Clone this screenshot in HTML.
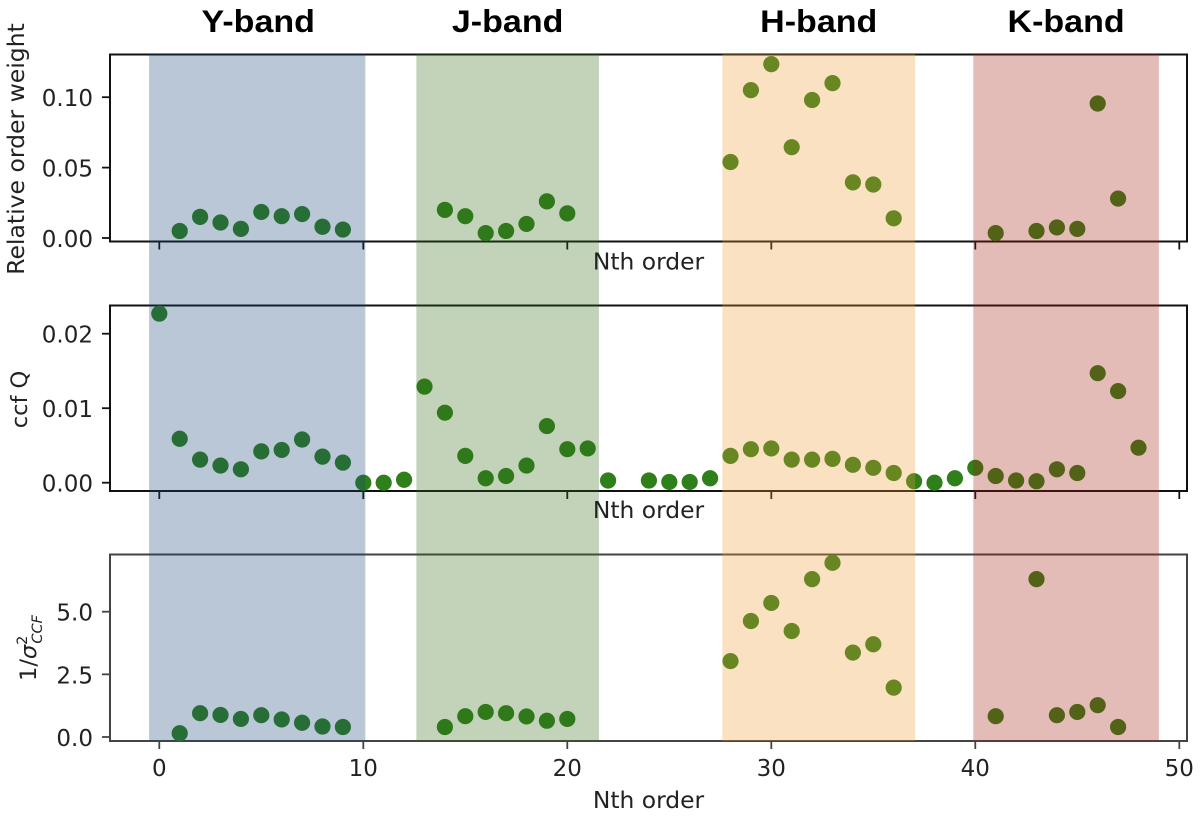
<!DOCTYPE html>
<html>
<head>
<meta charset="utf-8">
<style>
html,body{margin:0;padding:0;background:#fff;width:1200px;height:816px;overflow:hidden}
svg{display:block;font-family:"DejaVu Sans","Liberation Sans",sans-serif}
</style>
</head>
<body>
<svg id="chart" xmlns="http://www.w3.org/2000/svg" width="1200" height="816" viewBox="0 0 1200 816"></svg>
<script>
const xTicks = [0, 10, 20, 30, 40, 50];
const bandLabels = ["Y-band", "J-band", "H-band", "K-band"];
const bandStarts = [-0.5, 12.6, 27.6, 39.9];
const bandEnds = [10.1, 21.55, 37.05, 49.0];
const bandColors = ["#164476", "#346c1c", "#f09a34", "#a5200f"];

const weightOrders = [1,2,3,4,5,6,7,8,9,14,15,16,17,18,19,20,28,29,30,31,32,33,34,35,36,41,43,44,45,46,47];
const weightValues = [.005,.015,.011,.0065,.0185,.0155,.017,.008,.006,.02,.0155,.0035,.005,.01,.026,.0175,.054,.105,.1235,.0645,.098,.11,.0395,.038,.014,.0035,.005,.0075,.0065,.0955,.028];
const weightTicks = [0, 0.05, 0.10];
const weightTickLabels = ["0.00", "0.05", "0.10"];

const ccfOrders = [0,1,2,3,4,5,6,7,8,9,10,11,12,13,14,15,16,17,18,19,20,21,22,24,25,26,27,28,29,30,31,32,33,34,35,36,37,38,39,40,41,42,43,44,45,46,47,48];
const ccfValues = [.0227,.0059,.0031,.0023,.0018,.0042,.0044,.0058,.0035,.0027,0,0,.0004,.0129,.0094,.0036,.0006,.0009,.0023,.0076,.0045,.0046,.0003,.0003,.0001,.0001,.0006,.0036,.0045,.0046,.0031,.0031,.0032,.0024,.002,.0013,.0002,0,.0006,.002,.0009,.0003,.0002,.0018,.0013,.0147,.0123,.0047];
const ccfTicks = [0, 0.01, 0.02];
const ccfTickLabels = ["0.00", "0.01", "0.02"];

const sigmaOrders = [1,2,3,4,5,6,7,8,9,14,15,16,17,18,19,20,28,29,30,31,32,33,34,35,36,41,43,44,45,46,47];
const sigmaValues = [.15,.95,.88,.72,.87,.7,.57,.42,.4,.4,.83,1.0,.95,.82,.65,.72,3.03,4.63,5.35,4.23,6.3,6.95,3.37,3.7,1.97,.83,6.3,.87,1.0,1.27,.4];
const sigmaTicks = [0, 2.5, 5];
const sigmaTickLabels = ["0.0", "2.5", "5.0"];

const NS = "http://www.w3.org/2000/svg";
const svg = document.getElementById("chart");
const MARKER = "#2f7f1a";
const TEXT = "#222";
const LEFT = 110, RIGHT = 1187, BAND_TOP = 54, BAND_BOTTOM = 741;

function xScale(v){ return 159.3 + v * 20.4; }
function makeY(zero, perUnit){ return function(v){ return zero - v * perUnit; }; }

function mk(tag, attrs, parent){
  const el = document.createElementNS(NS, tag);
  for (const k in attrs) el.setAttribute(k, attrs[k]);
  (parent || svg).appendChild(el);
  return el;
}

function drawPanel(name, top, bottom, yFn, orders, values, ticks, tickLabels, spine, showXLabels){
  const g = mk("g", {});
  
  
  const frame = mk("rect", {x:LEFT, y:top, width:RIGHT-LEFT, height:bottom-top, fill:"none", stroke:spine, "stroke-width":2}, g);
  
  
  ticks.forEach(function(t, i){
    const y = yFn(t);
    const tick = mk("line", {x1:LEFT-8, x2:LEFT, y1:y, y2:y, stroke:spine, "stroke-width":1.8}, g);
    
    
    const lab = mk("text", {x:93, y:y+9, "text-anchor":"end", "font-size":23, fill:TEXT}, g);
    
    
    lab.textContent = tickLabels[i];
  });
  xTicks.forEach(function(t){
    const x = xScale(t);
    const tick = mk("line", {x1:x, x2:x, y1:bottom, y2:bottom+8, stroke:spine, "stroke-width":1.8}, g);
    
    
    if (showXLabels){
      const lab = mk("text", {x:x, y:bottom+35, "text-anchor":"middle", "font-size":23, fill:TEXT}, g);
      
      
      lab.textContent = String(t);
    }
  });
  orders.forEach(function(o, i){
    const c = mk("circle", {cx:xScale(o), cy:yFn(values[i]), r:8.1, fill:MARKER}, g);
    
    
  });
}

drawPanel("weight", 54.5, 241.5, makeY(238, 1408), weightOrders, weightValues, weightTicks, weightTickLabels, "#111", false);
drawPanel("ccf", 305.5, 491, makeY(482.7, 7450), ccfOrders, ccfValues, ccfTicks, ccfTickLabels, "#111", false);
drawPanel("sigma", 554.5, 741, makeY(737, 25.06), sigmaOrders, sigmaValues, sigmaTicks, sigmaTickLabels, "#444", true);

bandLabels.forEach(function(label, i){
  const x0 = xScale(bandStarts[i]), x1 = xScale(bandEnds[i]);
  const r = mk("rect", {x:x0, y:BAND_TOP, width:x1-x0, height:BAND_BOTTOM-BAND_TOP, fill:bandColors[i], "fill-opacity":0.3});
  
  
  const cx = (x0 + x1) / 2 + (i === 0 ? 1 : 0);
  const t = mk("text", {transform:"translate(" + cx + ",32) scale(1.08,1)", "text-anchor":"middle", "font-size":31.5, "font-weight":"bold", fill:"#000", style:'font-family:"Liberation Sans",sans-serif'});
  
  
  t.textContent = label;
});

[269.3, 518, 808].forEach(function(y){
  const t = mk("text", {x:648.5, y:y, "text-anchor":"middle", "font-size":23.4, fill:TEXT});
  
  
  t.textContent = "Nth order";
});

const yt1 = mk("text", {transform:"translate(24,149) rotate(-90)", "text-anchor":"middle", "font-size":23.5, fill:TEXT});


yt1.textContent = "Relative order weight";

const yt2 = mk("text", {transform:"translate(27,399.5) rotate(-90)", "text-anchor":"middle", "font-size":22.5, fill:TEXT});


yt2.textContent = "ccf Q";

const yt3 = mk("text", {transform:"translate(36,648) rotate(-90)", "text-anchor":"middle", "font-size":22.5, fill:TEXT});


const s1 = mk("tspan", {}, yt3); s1.textContent = "1/";
const s2 = mk("tspan", {"font-style":"italic"}, yt3); s2.textContent = "σ";
const s3 = mk("tspan", {"font-size":14.5, dy:-9}, yt3); s3.textContent = "2";
const s4 = mk("tspan", {"font-size":14.5, "font-style":"italic", dx:-8, dy:15}, yt3); s4.textContent = "CCF";
</script>
</body>
</html>
